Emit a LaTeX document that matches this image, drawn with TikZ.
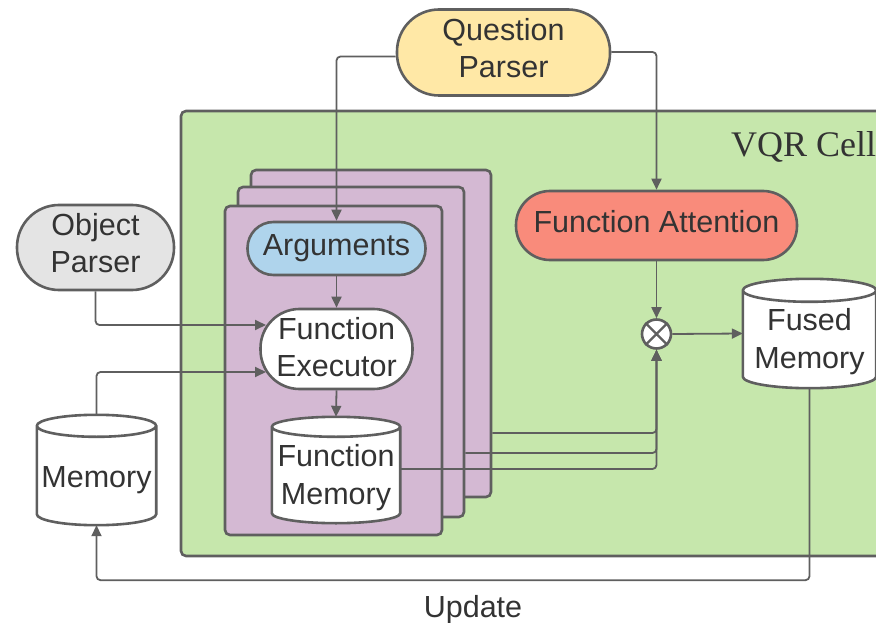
\documentclass[tikz,border=0pt]{standalone}
\usepackage{fontspec}
\setmainfont{Liberation Sans}
\newfontfamily\cellfont{Liberation Serif}
\usetikzlibrary{arrows.meta,calc}
\pgfdeclarelayer{back}
\pgfdeclarelayer{mid}
\pgfsetlayers{back,mid,main}

\definecolor{linegray}{HTML}{5F5F5F}
\definecolor{txtgray}{HTML}{333333}
\definecolor{cellgreen}{HTML}{C6E7AC}
\definecolor{stackpurple}{HTML}{D4B9D3}
\definecolor{qyellow}{HTML}{FFE8A6}
\definecolor{objgray}{HTML}{E4E4E4}
\definecolor{argblue}{HTML}{AFD4EC}
\definecolor{attred}{HTML}{F98B7B}

\tikzset{
  txt/.style={text=txtgray, font=\fontsize{30.5}{37.5}\selectfont, align=center, inner sep=0pt},
  pill/.style n args={3}{txt, draw=linegray, line width=2.6pt,
    minimum width=#1, minimum height=#2, rounded corners=#3},
  panel/.style={draw=linegray, line width=2.6pt, rounded corners=5pt},
  drumbox/.style 2 args={txt, minimum width=#1, minimum height=#2},
  drumline/.style={draw=linegray, line width=2.6pt, fill=white},
  conn/.style={draw=linegray, line width=1.8pt, rounded corners=4pt,
    -{Triangle[length=11pt,width=10pt]}},
}

% cylinder outline around a node: name, half height of the end ellipses
\newcommand{\drum}[2]{%
  \path[drumline] let \p1=(#1.north west), \p2=(#1.south east),
      \n1={(\x2-\x1)/2} in
    (\x1,\y1-#2) -- (\x1,\y2+#2)
      arc[start angle=180, end angle=360, x radius=\n1, y radius=#2]
      -- (\x2,\y1-#2)
      arc[start angle=0, end angle=180, x radius=\n1, y radius=#2] -- cycle
    (\x1,\y1-#2) arc[start angle=180, end angle=360, x radius=\n1, y radius=#2];}

\begin{document}
\begin{tikzpicture}[x=1pt, y=-1pt]
\useasboundingbox (0,0) rectangle (876,623);

% cell and the stacked function modules
\begin{pgfonlayer}{back}
  \node[panel, fill=cellgreen, minimum width=724pt, minimum height=445pt] (cell) at (543,333.5) {};
  \node[panel, fill=stackpurple, minimum width=240pt, minimum height=327pt] (pb1) at (371,333.5) {};
  \node[panel, fill=stackpurple, minimum width=226pt, minimum height=330pt] (pb2) at (351,352) {};
  \node[panel, fill=stackpurple, minimum width=217pt, minimum height=329pt] (pb3) at (333.5,370.5) {};
\end{pgfonlayer}

\node[txt, font=\cellfont\fontsize{36}{42}\selectfont, anchor=base west] (vqr) at (731,157) {VQR Cell};

% blocks
\node[pill={213pt}{86pt}{42pt}, fill=qyellow, text height=57pt, text depth=6pt] (qp) at (503.5,52.5) {Question\\Parser};
\node[pill={157pt}{85pt}{42pt}, fill=objgray, text height=56.4pt, text depth=6pt] (op) at (95.5,247.5) {Object\\Parser};
\node[pill={178pt}{53pt}{26pt}, fill=argblue] (args) at (336.5,248.5) {Arguments};
\node[pill={152pt}{80pt}{39pt}, fill=white, text height=61.4pt, text depth=6pt] (fexec) at (336.5,349) {Function\\Executor};
\node[pill={281pt}{69pt}{34pt}, fill=attred, text height=22pt, text depth=7pt] (fatt) at (656.5,225.5) {Function Attention};
\node[circle, draw=linegray, line width=2.6pt, fill=white, minimum size=29pt, inner sep=0pt] (mult) at (656.5,334) {};
\draw[linegray, line width=2.4pt] (mult.45) -- (mult.225) (mult.135) -- (mult.315);

% memories
\node[drumbox={128pt}{106pt}, text height=74pt, text depth=6pt] (fmem) at (336,470) {Function\\Memory};
\node[drumbox={133pt}{109pt}, text height=75pt, text depth=6pt] (fused) at (809.5,333.5) {Fused\\Memory};
\node[drumbox={119pt}{110pt}, text height=40pt, text depth=6pt] (mem) at (96.5,470) {Memory};
\begin{pgfonlayer}{mid}
  \drum{fmem}{10pt}
  \drum{fused}{11.5pt}
  \drum{mem}{11pt}
\end{pgfonlayer}

\coordinate (fexecin1) at (266,325);
\coordinate (fexecin2) at (266,372);

% connectors
\draw[conn] ([yshift=-4pt]qp.west) -| (args.north);
\draw[conn] ([yshift=0.5pt]qp.east) -| (fatt.north);
\draw[conn] (args.south) -- (fexec.north);
\draw[conn] (fexec.south) -- (fmem.north);
\draw[conn] (op.south) |- (fexecin1);
\draw[conn] (mem.north) |- (fexecin2);
\draw[conn] (fatt.south) -- (mult.north);
\draw[conn] (mult.east) -- (fused.west);
\draw[conn] (pb1.east |- 0,433) -| (mult.south);
\draw[conn] (pb2.east |- 0,453) -| (mult.south);
\draw[conn] (fmem.east |- 0,469) -| (mult.south);
\draw[conn] (fused.south) -- ++(0,192) -| (mem.south);

\node[txt] (upd) at (473,610) {Update};
\end{tikzpicture}
\end{document}
